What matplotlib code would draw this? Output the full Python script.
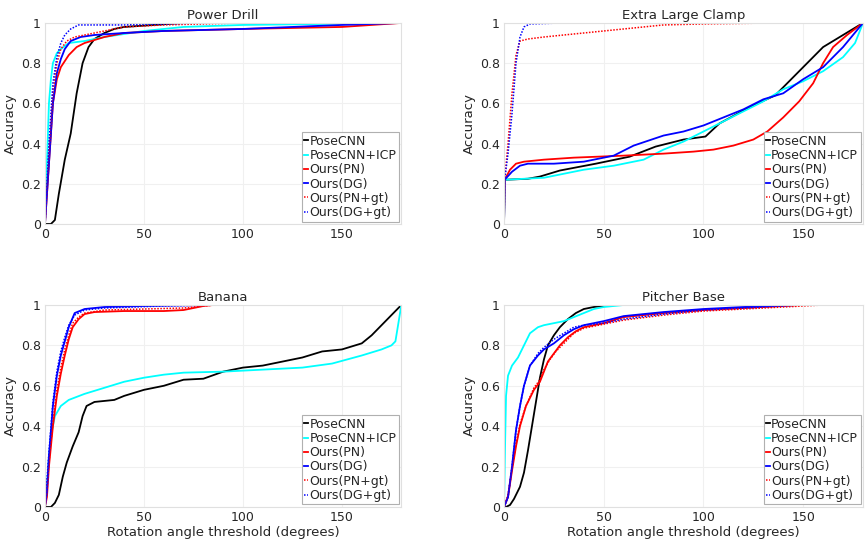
import numpy as np
import matplotlib
matplotlib.use("Agg")
import matplotlib.pyplot as plt

labels = ["PoseCNN", "PoseCNN+ICP", "Ours(PN)", "Ours(DG)", "Ours(PN+gt)", "Ours(DG+gt)"]
titles = ["Power Drill", "Extra Large Clamp", "Banana", "Pitcher Base"]

# Power Drill: (angle, accuracy) pairs per method
drill_posecnn = [(0, 0), (3, 0), (5, 0.02), (7, 0.15), (10, 0.32), (13, 0.45), (16, 0.65), (19, 0.8),
                 (22, 0.88), (25, 0.92), (30, 0.95), (35, 0.97), (40, 0.98), (55, 0.99), (70, 1.0), (180, 1.0)]
drill_icp = [(0, 0), (1, 0.3), (2, 0.6), (3, 0.72), (4, 0.8), (6, 0.85), (8, 0.87), (12, 0.9), (20, 0.91),
             (30, 0.93), (50, 0.96), (70, 0.98), (100, 0.99), (180, 1.0)]
drill_pn = [(0, 0), (2, 0.3), (4, 0.6), (6, 0.72), (8, 0.78), (12, 0.84), (16, 0.88), (20, 0.9), (30, 0.93),
            (40, 0.95), (60, 0.96), (100, 0.97), (150, 0.98), (180, 1.0)]
drill_dg = [(0, 0), (2, 0.3), (4, 0.6), (6, 0.75), (8, 0.82), (10, 0.87), (13, 0.91), (18, 0.93), (25, 0.94),
            (40, 0.95), (60, 0.96), (100, 0.97), (150, 0.99), (180, 1.0)]
drill_pn_gt = [(0, 0), (2, 0.35), (4, 0.65), (6, 0.8), (8, 0.87), (11, 0.91), (15, 0.93), (20, 0.94),
               (30, 0.96), (40, 0.98), (60, 0.99), (100, 1.0), (130, 1.0)]
drill_dg_gt = [(0, 0), (2, 0.4), (4, 0.7), (6, 0.83), (8, 0.9), (10, 0.94), (13, 0.97), (17, 0.99),
               (40, 0.99), (80, 1.0), (180, 1.0)]

# Extra Large Clamp
clamp_posecnn = [(0, 0), (0.3, 0.22), (12, 0.225), (18, 0.236), (28, 0.266), (46, 0.3), (63, 0.335),
                 (76, 0.385), (90, 0.42), (101, 0.435), (108, 0.5), (123, 0.58), (136, 0.64), (145, 0.73),
                 (160, 0.88), (175, 0.97), (180, 1.0)]
clamp_icp = [(0, 0), (0.3, 0.22), (20, 0.23), (40, 0.27), (55, 0.29), (70, 0.32), (80, 0.37), (90, 0.41),
             (100, 0.46), (110, 0.51), (120, 0.56), (130, 0.61), (140, 0.67), (150, 0.71), (160, 0.76),
             (170, 0.83), (176, 0.9), (180, 1.0)]
clamp_pn = [(0, 0), (0.3, 0.22), (3, 0.27), (6, 0.3), (10, 0.31), (20, 0.32), (35, 0.33), (60, 0.34),
            (80, 0.35), (95, 0.36), (105, 0.37), (115, 0.39), (125, 0.42), (132, 0.46), (140, 0.53),
            (148, 0.61), (155, 0.7), (160, 0.8), (165, 0.88), (172, 0.94), (180, 1.0)]
clamp_dg = [(0, 0), (0.3, 0.22), (4, 0.26), (8, 0.29), (12, 0.3), (25, 0.3), (40, 0.31), (55, 0.34),
            (65, 0.39), (80, 0.44), (90, 0.46), (100, 0.49), (110, 0.53), (120, 0.57), (130, 0.62),
            (140, 0.65), (150, 0.72), (160, 0.78), (170, 0.88), (180, 1.0)]
clamp_pn_gt = [(0, 0), (0.3, 0.22), (2, 0.4), (4, 0.65), (6, 0.84), (8, 0.91), (12, 0.92), (20, 0.93),
               (30, 0.94), (40, 0.95), (60, 0.97), (80, 0.99), (100, 0.995), (137, 1.0)]
clamp_dg_gt = [(0, 0), (0.3, 0.22), (2, 0.35), (4, 0.55), (6, 0.8), (8, 0.93), (10, 0.98), (13, 0.995),
               (30, 1.0), (107, 1.0)]

# Banana
banana_posecnn = [(0, 0), (3, 0), (5, 0.02), (7, 0.06), (9, 0.15), (11, 0.22), (14, 0.3), (17, 0.37),
                  (19, 0.45), (21, 0.5), (25, 0.52), (35, 0.53), (40, 0.55), (50, 0.58), (60, 0.6),
                  (70, 0.63), (80, 0.635), (90, 0.67), (100, 0.69), (110, 0.7), (120, 0.72), (130, 0.74),
                  (140, 0.77), (150, 0.78), (160, 0.81), (165, 0.85), (170, 0.9), (175, 0.95), (180, 1.0)]
banana_icp = [(0, 0), (1, 0.1), (2, 0.25), (3, 0.35), (5, 0.45), (8, 0.5), (12, 0.53), (20, 0.56),
              (30, 0.59), (40, 0.62), (50, 0.64), (60, 0.655), (70, 0.665), (90, 0.67), (110, 0.68),
              (130, 0.69), (145, 0.71), (160, 0.75), (170, 0.78), (175, 0.8), (177, 0.82), (180, 1.0)]
banana_pn = [(0, 0), (1, 0.05), (2, 0.2), (4, 0.4), (6, 0.55), (8, 0.66), (10, 0.75), (12, 0.83), (14, 0.89),
             (17, 0.93), (20, 0.955), (25, 0.965), (40, 0.97), (60, 0.97), (70, 0.975), (75, 0.985),
             (80, 0.995), (85, 1.0)]
banana_dg = [(0, 0), (1, 0.08), (2, 0.25), (4, 0.5), (6, 0.65), (8, 0.75), (10, 0.82), (12, 0.89),
             (15, 0.96), (20, 0.98), (30, 0.99), (50, 0.995), (80, 1.0), (110, 1.0)]
banana_pn_gt = [(0, 0), (2, 0.22), (4, 0.42), (6, 0.58), (8, 0.69), (10, 0.78), (12, 0.85), (14, 0.91),
                (17, 0.94), (20, 0.96), (30, 0.975), (50, 0.98), (70, 0.985), (80, 0.995), (86, 1.0)]
banana_dg_gt = [(0, 0), (2, 0.27), (4, 0.52), (6, 0.67), (8, 0.77), (10, 0.84), (12, 0.9), (15, 0.95),
                (20, 0.975), (30, 0.985), (60, 0.995), (90, 1.0), (110, 1.0)]

# Pitcher Base
pitcher_posecnn = [(0, 0), (1, 0), (3, 0.01), (5, 0.04), (8, 0.1), (10, 0.17), (12, 0.28), (14, 0.4),
                   (16, 0.52), (18, 0.64), (20, 0.73), (22, 0.8), (25, 0.85), (28, 0.89), (32, 0.93),
                   (36, 0.96), (40, 0.98), (45, 0.99), (50, 0.995), (55, 1.0)]
pitcher_icp = [(0, 0), (0.5, 0.3), (1, 0.55), (2, 0.65), (4, 0.7), (7, 0.74), (10, 0.8), (13, 0.86),
               (17, 0.89), (20, 0.9), (25, 0.91), (30, 0.92), (35, 0.94), (40, 0.96), (45, 0.98),
               (50, 0.99), (55, 0.995), (60, 1.0), (150, 1.0)]
pitcher_pn = [(0, 0), (2, 0.05), (4, 0.18), (6, 0.3), (8, 0.4), (11, 0.5), (15, 0.58), (18, 0.62),
              (20, 0.67), (22, 0.72), (25, 0.76), (28, 0.8), (32, 0.84), (36, 0.87), (40, 0.89), (50, 0.91),
              (60, 0.94), (80, 0.96), (100, 0.975), (120, 0.985), (140, 0.995), (150, 1.0)]
pitcher_dg = [(0, 0), (2, 0.05), (4, 0.2), (6, 0.38), (8, 0.5), (10, 0.6), (13, 0.7), (17, 0.75),
              (20, 0.78), (25, 0.81), (30, 0.85), (35, 0.88), (40, 0.9), (50, 0.92), (60, 0.945),
              (80, 0.965), (100, 0.98), (120, 0.99), (148, 1.0)]
pitcher_pn_gt = [(0, 0), (2, 0.06), (4, 0.19), (6, 0.31), (8, 0.41), (11, 0.5), (15, 0.59), (18, 0.63),
                 (20, 0.68), (23, 0.73), (26, 0.77), (30, 0.81), (35, 0.86), (40, 0.885), (50, 0.905),
                 (60, 0.925), (80, 0.95), (100, 0.97), (120, 0.98), (140, 0.99), (160, 1.0)]
pitcher_dg_gt = [(0, 0), (2, 0.05), (4, 0.2), (6, 0.38), (8, 0.5), (10, 0.6), (13, 0.7), (17, 0.76),
                 (20, 0.79), (25, 0.83), (30, 0.86), (35, 0.89), (40, 0.9), (50, 0.91), (60, 0.93),
                 (80, 0.955), (100, 0.975), (120, 0.985), (148, 1.0)]

panels = [
    [drill_posecnn, drill_icp, drill_pn, drill_dg, drill_pn_gt, drill_dg_gt],
    [clamp_posecnn, clamp_icp, clamp_pn, clamp_dg, clamp_pn_gt, clamp_dg_gt],
    [banana_posecnn, banana_icp, banana_pn, banana_dg, banana_pn_gt, banana_dg_gt],
    [pitcher_posecnn, pitcher_icp, pitcher_pn, pitcher_dg, pitcher_pn_gt, pitcher_dg_gt],
]

colors = ["black", "cyan", "red", "blue", "red", "blue"]
styles = ["-", "-", "-", "-", (0, (1, 1)), (0, (1, 1))]

plt.rcParams['font.family'] = ['DejaVu Sans']
txt = "#262626"
fig = plt.figure(figsize=(8.65, 5.42), dpi=100)
rects = [
    [0.052, 0.5867, 0.412, 0.371],
    [0.5827, 0.5867, 0.415, 0.371],
    [0.052, 0.0646, 0.412, 0.3727],
    [0.5827, 0.0646, 0.415, 0.3727],
]

for i in range(4):
    ax = fig.add_axes(rects[i])
    for j in range(6):
        pts = np.array(panels[i][j])
        lw = 1.3 if j < 4 else 1.1
        ax.plot(pts[:, 0], pts[:, 1], color=colors[j], linestyle=styles[j], linewidth=lw, label=labels[j])
    ax.set_xlim(0, 180)
    ax.set_ylim(0, 1)
    ax.set_xticks([0, 50, 100, 150])
    ax.set_yticks([0, 0.2, 0.4, 0.6, 0.8, 1.0])
    ax.set_yticklabels(["0", "0.2", "0.4", "0.6", "0.8", "1"])
    ax.tick_params(length=0, labelsize=9, colors=txt, pad=3)
    ax.grid(True, color="#f0f0f0", linewidth=0.8)
    ax.set_axisbelow(True)
    for sp in ax.spines.values():
        sp.set_color("#e0e0e0")
    ax.set_title(titles[i], fontsize=9.5, color=txt, pad=3)
    ax.set_ylabel("Accuracy", fontsize=9.5, color=txt, labelpad=3)
    if i >= 2:
        ax.set_xlabel("Rotation angle threshold (degrees)", fontsize=9.5, color=txt, labelpad=1)
    leg = ax.legend(loc="lower right", fontsize=9, handlelength=0.3, handletextpad=0.1,
                    borderpad=0.2, labelspacing=0.1, borderaxespad=0.2, fancybox=False, framealpha=1)
    leg.get_frame().set_edgecolor("#b0b0b0")
    leg.get_frame().set_linewidth(0.8)
    for t in leg.get_texts():
        t.set_color(txt)

plt.savefig("out.png", dpi=100)
